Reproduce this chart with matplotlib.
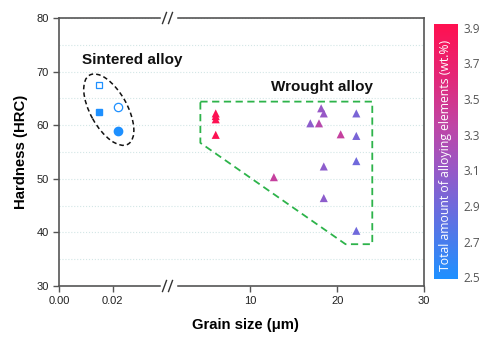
import numpy as np
import matplotlib.pyplot as plt
from matplotlib.colors import LinearSegmentedColormap, Normalize
from matplotlib.patches import Ellipse
from matplotlib.lines import Line2D
from matplotlib.transforms import ScaledTranslation
import matplotlib.cm as cm

plt.rcParams['font.family'] = ['Liberation Sans', 'DejaVu Sans']

# sintered alloys (sub-micron grain size)
sint_open_sq = ([0.0148], [67.5])
sint_fill_sq = ([0.0148], [62.4])
sint_open_ci = ([0.022], [63.4])
sint_fill_ci = ([0.022], [58.9])

# wrought alloys
wr_x = [6.0, 6.0, 6.0, 6.0, 18.15, 18.45, 22.2, 16.9, 17.9, 20.4, 22.2, 22.2, 18.45, 12.7, 18.45, 22.2]
wr_y = [62.2, 61.7, 61.1, 58.2, 63.15, 62.2, 62.2, 60.35, 60.35, 58.3, 58.0, 53.3, 52.3, 50.3, 46.4, 40.3]
wr_c = [3.9, 3.9, 3.9, 3.9, 3.1, 3.1, 2.95, 3.05, 3.3, 3.4, 2.95, 2.9, 3.05, 3.4, 3.05, 2.9]

# dashed region around wrought alloys
reg_x = [4.23, 24.04, 24.04, 20.96, 4.23, 4.23]
reg_y = [64.4, 64.4, 37.8, 37.8, 56.7, 64.4]

cb_ticks = [2.5, 2.7, 2.9, 3.1, 3.3, 3.5, 3.7, 3.9]

cmap = LinearSegmentedColormap.from_list('alloy', [
    (0.0, '#1E90FF'), (0.28, '#6E6ADC'), (0.43, '#9858C6'),
    (0.6, '#BE46A6'), (0.8, '#E42676'), (1.0, '#FF1050')])
norm = Normalize(vmin=2.49, vmax=3.92)

W, H = 494, 338
fig = plt.figure(figsize=(W / 100, H / 100), dpi=100)

def box(x0, x1, y0, y1):
    return [x0 / W, 1 - y1 / H, (x1 - x0) / W, (y1 - y0) / H]

ax1 = fig.add_axes(box(59, 168, 18, 286))
ax2 = fig.add_axes(box(168, 424, 18, 286), sharey=ax1)
ax2.set_facecolor('none')
cax = fig.add_axes(box(434, 457.5, 24, 279))

spine_c = '#555555'
grid_c = '#d3e6e6'
for ax in (ax1, ax2):
    ax.set_ylim(30, 80)
    ax.set_yticks(np.arange(30, 81, 10))
    ax.set_yticks(np.arange(35, 80, 10), minor=True)
    ax.grid(axis='y', which='both', color=grid_c, ls=':', lw=0.8)
    ax.set_axisbelow(True)
    for s in ax.spines.values():
        s.set_color(spine_c)
        s.set_linewidth(1.2)
    ax.tick_params(colors=spine_c, labelcolor='#222222', labelsize=8,
                   length=4, width=1.0, direction='out')
    ax.tick_params(which='minor', length=0)

ax1.set_xlim(0, 0.0405)
ax1.set_xticks([0.0, 0.02])
ax1.set_xticklabels(['0.00', '0.02'])
ax1.spines['right'].set_visible(False)

ax2.set_xlim(0.5, 30)
ax2.set_xticks([10, 20, 30])
ax2.spines['left'].set_visible(False)
ax2.tick_params(axis='y', left=False, labelleft=False)

blue = '#1E90FF'
ax1.plot(*sint_open_sq, 's', ms=5, mfc='white', mec=blue, mew=0.9)
ax1.plot(*sint_fill_sq, 's', ms=5, mfc=blue, mec=blue)
ax1.plot(*sint_open_ci, 'o', ms=6, mfc='white', mec=blue, mew=0.9)
ax1.plot(*sint_fill_ci, 'o', ms=6, mfc=blue, mec=blue)

# dashed ellipse around sintered group, sized in inches
ell = Ellipse((0, 0), width=0.79, height=0.37, angle=-61, fill=False,
              ec='#111111', lw=1.1, ls=(0, (3, 2)),
              transform=fig.dpi_scale_trans + ScaledTranslation(0.0185, 62.9, ax1.transData))
ax1.add_patch(ell)
ax1.text(0.0084, 71.4, 'Sintered alloy', fontsize=11, fontweight='bold',
         color='#111111', zorder=5)

ax2.scatter(wr_x, wr_y, c=wr_c, cmap=cmap, norm=norm, marker='^', s=34,
            edgecolors='none', zorder=3)
ax2.plot(reg_x, reg_y, color='#2DB34A', lw=1.3, ls=(0, (4, 2.5)))
ax2.text(12.35, 66.3, 'Wrought alloy', fontsize=11, fontweight='bold', color='#111111')

ax1.set_ylabel('Hardness (HRC)', fontsize=10.7, fontweight='bold', labelpad=6)
fig.text(245 / W, 1 - 325 / H, 'Grain size (μm)', fontsize=10.7, fontweight='bold',
         ha='center', va='center')

# axis break marks
def px(x, y):
    return x / W, 1 - y / H

for yb in (18, 286):
    fig.add_artist(Line2D(*zip(px(161.5, yb), px(174.5, yb)), color='white', lw=2.5))
    for x0 in (162.5, 168.5):
        fig.add_artist(Line2D(*zip(px(x0, yb + 5.5), px(x0 + 4, yb - 5.5)),
                              color='#333333', lw=1.0))

sm = cm.ScalarMappable(norm=norm, cmap=cmap)
cb = fig.colorbar(sm, cax=cax, ticks=cb_ticks)
cb.outline.set_visible(False)
cax.tick_params(length=0, pad=4, labelsize=8.5, labelcolor='#555555')
for lab in cax.get_yticklabels():
    lab.set_family(['Open Sans', 'DejaVu Sans'])
cax.text(0.5, 0.485, 'Total amount of alloying elements (wt.%)', rotation=90,
         color='white', fontsize=8.8, family=['Open Sans', 'DejaVu Sans'],
         ha='center', va='center', transform=cax.transAxes)

fig.savefig('out.png', dpi=100)
